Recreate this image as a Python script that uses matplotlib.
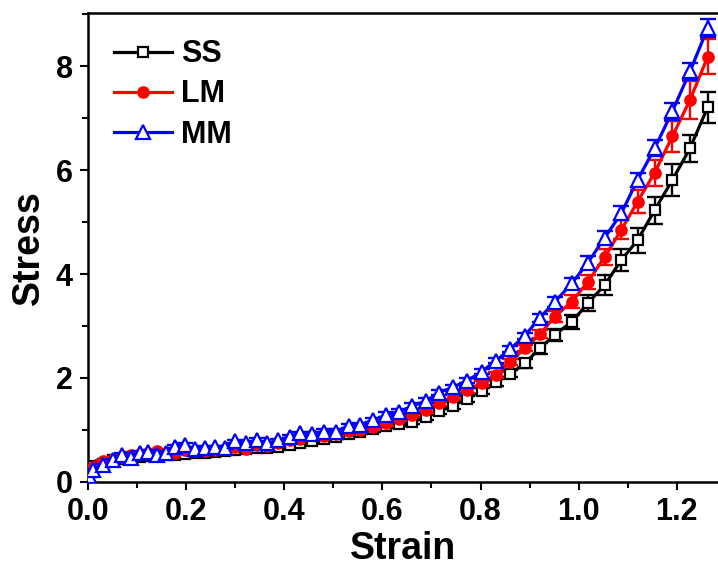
import numpy as np
import matplotlib
matplotlib.use("Agg")
import matplotlib.pyplot as plt
from matplotlib.ticker import MultipleLocator

plt.rcParams['font.family'] = ['Liberation Sans', 'DejaVu Sans']
plt.rcParams['font.weight'] = 'bold'

# =========================================================
# DATA
# =========================================================
strain = [0.003, 0.011, 0.031, 0.051, 0.069, 0.088, 0.105, 0.123, 0.140, 0.159,
          0.178, 0.198, 0.218, 0.238, 0.259, 0.279, 0.300, 0.321, 0.344, 0.364,
          0.388, 0.411, 0.432, 0.456, 0.481, 0.506, 0.531, 0.555, 0.581, 0.608,
          0.634, 0.661, 0.689, 0.716, 0.743, 0.773, 0.802, 0.831, 0.861, 0.890,
          0.921, 0.951, 0.986, 1.019, 1.053, 1.087, 1.120, 1.155, 1.191, 1.227,
          1.263]

ss = [0.22, 0.30, 0.35, 0.42, 0.45, 0.48, 0.48, 0.50, 0.50, 0.52,
      0.52, 0.54, 0.55, 0.56, 0.58, 0.60, 0.62, 0.63, 0.65, 0.66,
      0.68, 0.72, 0.75, 0.78, 0.82, 0.86, 0.92, 0.97, 1.02, 1.08,
      1.12, 1.16, 1.25, 1.36, 1.47, 1.60, 1.75, 1.92, 2.08, 2.28,
      2.57, 2.83, 3.08, 3.44, 3.79, 4.27, 4.65, 5.23, 5.81, 6.42,
      7.21]

lm = [0.20, 0.28, 0.40, 0.45, 0.48, 0.52, 0.54, 0.56, 0.60, 0.56,
      0.56, 0.62, 0.60, 0.60, 0.62, 0.64, 0.68, 0.64, 0.72, 0.70,
      0.74, 0.80, 0.82, 0.90, 0.88, 0.92, 0.98, 1.00, 1.06, 1.13,
      1.22, 1.29, 1.38, 1.51, 1.64, 1.77, 1.90, 2.06, 2.31, 2.57,
      2.84, 3.18, 3.47, 3.85, 4.33, 4.85, 5.39, 5.95, 6.65, 7.35,
      8.18]

mm = [0.12, 0.23, 0.32, 0.42, 0.52, 0.46, 0.56, 0.58, 0.52, 0.56,
      0.68, 0.71, 0.63, 0.66, 0.67, 0.66, 0.78, 0.74, 0.81, 0.74,
      0.80, 0.87, 0.94, 0.93, 0.97, 0.97, 1.08, 1.10, 1.19, 1.29,
      1.35, 1.46, 1.56, 1.72, 1.82, 1.95, 2.12, 2.33, 2.56, 2.81,
      3.16, 3.46, 3.82, 4.22, 4.70, 5.17, 5.81, 6.42, 7.13, 7.90,
      8.73]

ss_err = [0.02, 0.02, 0.03, 0.03, 0.03, 0.03, 0.03, 0.03, 0.03, 0.03,
          0.03, 0.03, 0.03, 0.03, 0.03, 0.03, 0.03, 0.03, 0.03, 0.03,
          0.03, 0.03, 0.03, 0.04, 0.04, 0.04, 0.04, 0.04, 0.05, 0.05,
          0.05, 0.05, 0.05, 0.06, 0.06, 0.06, 0.06, 0.07, 0.07, 0.08,
          0.10, 0.12, 0.14, 0.16, 0.20, 0.22, 0.24, 0.26, 0.30, 0.26,
          0.30]

lm_err = [0.02, 0.02, 0.03, 0.03, 0.03, 0.03, 0.03, 0.03, 0.03, 0.03,
          0.03, 0.03, 0.03, 0.03, 0.03, 0.03, 0.03, 0.03, 0.03, 0.03,
          0.03, 0.03, 0.03, 0.04, 0.04, 0.04, 0.04, 0.04, 0.04, 0.05,
          0.05, 0.05, 0.05, 0.05, 0.05, 0.05, 0.05, 0.06, 0.06, 0.06,
          0.08, 0.10, 0.12, 0.14, 0.16, 0.18, 0.22, 0.25, 0.30, 0.36,
          0.34]

mm_err = [0.02, 0.02, 0.03, 0.03, 0.03, 0.03, 0.03, 0.03, 0.03, 0.03,
          0.03, 0.03, 0.03, 0.03, 0.03, 0.03, 0.03, 0.03, 0.03, 0.03,
          0.03, 0.03, 0.03, 0.04, 0.04, 0.04, 0.04, 0.04, 0.04, 0.05,
          0.05, 0.05, 0.05, 0.05, 0.05, 0.05, 0.05, 0.05, 0.06, 0.06,
          0.08, 0.10, 0.10, 0.12, 0.12, 0.14, 0.14, 0.15, 0.16, 0.16,
          0.17]

# =========================================================
# FIGURE
# =========================================================
fig = plt.figure(figsize=(7.18, 5.69), dpi=100)
ax = fig.add_axes([0.1226, 0.153, 0.8774, 0.824])

series = [
    ("SS", ss, ss_err, "black", "s", 7.5, "white"),
    ("LM", lm, lm_err, "red", "o", 7.5, "red"),
    ("MM", mm, mm_err, "blue", "^", 9.5, "white"),
]

for i, (name, y, err, col, mk, ms, fc) in enumerate(series):
    ax.errorbar(strain, y, yerr=err, fmt='none', ecolor=col,
                elinewidth=1.7, capsize=6, capthick=1.7, zorder=2 + 2 * i)
    ax.plot(strain, y, color=col, lw=2.3, marker=mk, ms=ms,
            mfc=fc, mec=col, mew=1.6, label=name, zorder=3 + 2 * i)

ax.set_xlim(0, 1.284)
ax.set_ylim(0, 9.02)
ax.xaxis.set_major_locator(MultipleLocator(0.2))
ax.xaxis.set_minor_locator(MultipleLocator(0.1))
ax.yaxis.set_major_locator(MultipleLocator(2))
ax.yaxis.set_minor_locator(MultipleLocator(1))

ax.spines['right'].set_visible(False)
for s in ['left', 'bottom', 'top']:
    ax.spines[s].set_linewidth(1.8)

ax.tick_params(which='major', direction='out', length=6, width=1.5,
               labelsize=22, pad=5, right=False, top=False)
ax.tick_params(which='minor', direction='out', length=4, width=1.5,
               right=False, top=False)
for lab in ax.get_xticklabels() + ax.get_yticklabels():
    lab.set_fontweight('bold')

ax.set_xlabel("Strain", fontsize=27, fontweight='bold', labelpad=3)
ax.set_ylabel("Stress", fontsize=27, fontweight='bold', labelpad=6)

leg = ax.legend(loc='upper left', frameon=False, fontsize=22, numpoints=1,
                handlelength=1.9, handletextpad=0.3, labelspacing=0.33,
                bbox_to_anchor=(0.022, 0.97), borderaxespad=0)
for t in leg.get_texts():
    t.set_fontweight('bold')

fig.savefig("out.png", dpi=100)
